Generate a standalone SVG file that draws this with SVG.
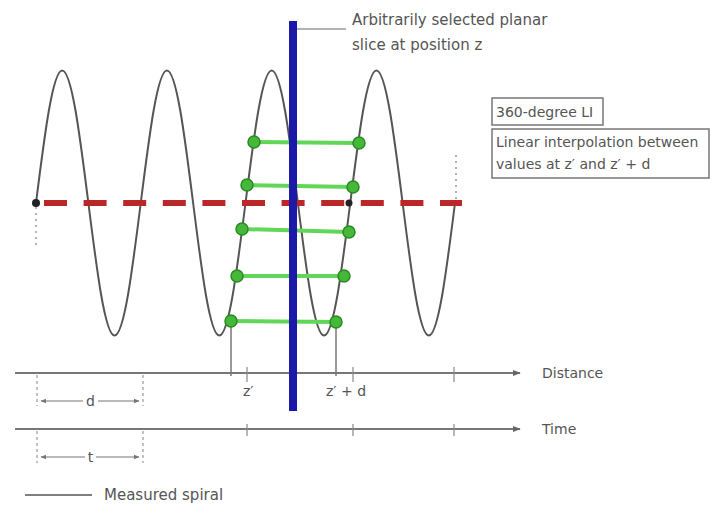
<svg xmlns="http://www.w3.org/2000/svg" width="711" height="508" viewBox="0 0 711 508">
<style>
text{font-family:"DejaVu Sans",Verdana,sans-serif;font-size:15px;fill:#555}
.sm{font-size:14px}
.ax{stroke:#777;stroke-width:2;fill:none}
.tick{stroke:#888;stroke-width:1.2}
.dash{stroke:#999;stroke-width:1.2;stroke-dasharray:3 3;fill:none}
.dim{stroke:#777;stroke-width:1.2;fill:none}
.gl{stroke:#62d659;stroke-width:4;stroke-linecap:round}
.gd{fill:#45b83a;stroke:#2a8a22;stroke-width:1.5}
.box{fill:#fff;stroke:#777;stroke-width:1.5}
</style>
<defs>
<marker id="ah" viewBox="0 0 10 10" refX="9" refY="5" markerWidth="8" markerHeight="8" markerUnits="userSpaceOnUse" orient="auto"><path d="M0,1 L10,5 L0,9 Z" fill="#666"/></marker>
<marker id="sa" viewBox="0 0 10 10" refX="9" refY="5" markerWidth="6" markerHeight="6" markerUnits="userSpaceOnUse" orient="auto-start-reverse"><path d="M0,1 L10,5 L0,9 Z" fill="#777"/></marker>
</defs>
<rect width="711" height="508" fill="#fff"/>

<g id="spiral">
<path d="M36,203 C44.54,135.12 52.71,70.5 62.19,70.5 C71.67,70.5 79.83,135.12 88.375,203 C96.92,270.88 105.09,335.5 114.56,335.5 C124.04,335.5 132.21,270.88 140.75,203 C149.29,135.12 157.46,70.5 166.94,70.5 C176.42,70.5 184.58,135.12 193.125,203 C201.67,270.88 209.84,335.5 219.31,335.5 C228.79,335.5 236.96,270.88 245.5,203 C254.04,135.12 262.21,70.5 271.69,70.5 C281.17,70.5 289.33,135.12 297.875,203 C306.42,270.88 314.59,335.5 324.06,335.5 C333.54,335.5 341.71,270.88 350.25,203 C358.79,135.12 366.96,70.5 376.44,70.5 C385.92,70.5 394.08,135.12 402.625,203 C411.17,270.88 419.34,335.5 428.81,335.5 C438.29,335.5 446.46,270.88 455,203" fill="none" stroke="#555" stroke-width="2"/>
<line x1="36" y1="207" x2="36" y2="246" stroke="#999" stroke-width="1.5" stroke-dasharray="2 4"/>
<line x1="456" y1="155" x2="456" y2="199" stroke="#999" stroke-width="1.5" stroke-dasharray="2 4"/>
</g>

<g id="slice-plane">
<line x1="44" y1="203" x2="462" y2="203" stroke="#bb2629" stroke-width="6" stroke-dasharray="23 16.6"/>
<circle cx="36" cy="203" r="4" fill="#222"/>
<circle cx="349" cy="203" r="3.5" fill="#222"/>
</g>

<g id="interpolation">
<line class="gl" x1="254" y1="142" x2="359" y2="143"/>
<line class="gl" x1="247" y1="185" x2="353" y2="187"/>
<line class="gl" x1="242" y1="229" x2="349" y2="232"/>
<line class="gl" x1="237" y1="276" x2="344" y2="276"/>
<line class="gl" x1="231" y1="321" x2="336" y2="322"/>
<line x1="231" y1="321" x2="231" y2="376" stroke="#777" stroke-width="1.5"/>
<line x1="336" y1="322" x2="336" y2="376" stroke="#777" stroke-width="1.5"/>
<circle class="gd" cx="254" cy="142" r="6"/>
<circle class="gd" cx="247" cy="185" r="6"/>
<circle class="gd" cx="242" cy="229" r="6"/>
<circle class="gd" cx="237" cy="276" r="6"/>
<circle class="gd" cx="231" cy="321" r="6"/>
<circle class="gd" cx="359" cy="143" r="6"/>
<circle class="gd" cx="353" cy="187" r="6"/>
<circle class="gd" cx="349" cy="232" r="6"/>
<circle class="gd" cx="344" cy="276" r="6"/>
<circle class="gd" cx="336" cy="322" r="6"/>
</g>

<g id="distance-axis">
<line class="ax" x1="15" y1="373" x2="520" y2="373" marker-end="url(#ah)"/>
<line class="tick" x1="247" y1="367" x2="247" y2="382"/>
<line class="tick" x1="353" y1="367" x2="353" y2="382"/>
<line class="tick" x1="454" y1="367" x2="454" y2="382"/>
<text class="sm" x="542" y="378">Distance</text>
<text class="sm" x="243" y="396">z′</text>
<text class="sm" x="326" y="396">z′ + d</text>
</g>

<g id="time-axis">
<line class="ax" x1="15" y1="429" x2="520" y2="429" marker-end="url(#ah)"/>
<line class="tick" x1="247" y1="424" x2="247" y2="436"/>
<line class="tick" x1="353" y1="424" x2="353" y2="436"/>
<line class="tick" x1="454" y1="424" x2="454" y2="436"/>
<text class="sm" x="542" y="434">Time</text>
</g>

<g id="dim-d">
<line class="dash" x1="37" y1="375" x2="37" y2="406"/>
<line class="dash" x1="143" y1="375" x2="143" y2="406"/>
<line class="dim" x1="83" y1="401" x2="41" y2="401" marker-end="url(#sa)"/>
<line class="dim" x1="98" y1="401" x2="139" y2="401" marker-end="url(#sa)"/>
<text class="sm" x="90.5" y="406" text-anchor="middle">d</text>
</g>

<g id="dim-t">
<line class="dash" x1="37" y1="431" x2="37" y2="463"/>
<line class="dash" x1="143" y1="431" x2="143" y2="463"/>
<line class="dim" x1="85" y1="457" x2="41" y2="457" marker-end="url(#sa)"/>
<line class="dim" x1="96" y1="457" x2="139" y2="457" marker-end="url(#sa)"/>
<text class="sm" x="90.5" y="462" text-anchor="middle">t</text>
</g>

<g id="blue-slice">
<line x1="293" y1="21" x2="293" y2="411" stroke="#1c18a8" stroke-width="8"/>
<line x1="297" y1="29" x2="346" y2="29" stroke="#999" stroke-width="1.5"/>
<text x="352" y="25">Arbitrarily selected planar</text>
<text x="352" y="50">slice at position z</text>
</g>

<g id="legend-box">
<rect class="box" x="492" y="98" width="111" height="27"/>
<text class="sm" x="496" y="117">360-degree LI</text>
<rect class="box" x="492" y="129" width="217" height="49"/>
<text class="sm" x="496" y="147">Linear interpolation between</text>
<text class="sm" x="496" y="169">values at z′ and z′ + d</text>
</g>

<g id="legend">
<line x1="25" y1="495" x2="92" y2="495" stroke="#555" stroke-width="1.5"/>
<text x="104" y="500">Measured spiral</text>
</g>
</svg>
